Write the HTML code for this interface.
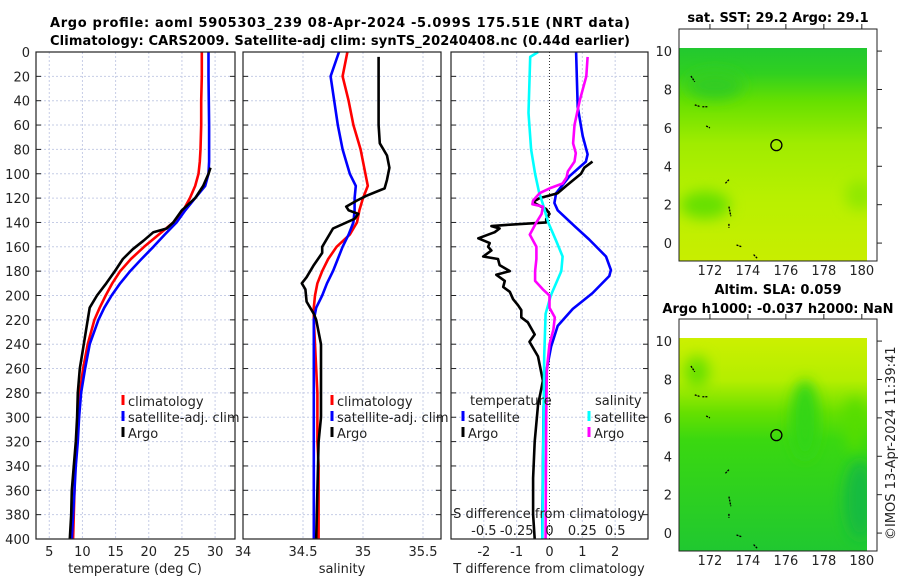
<!DOCTYPE html>
<html><head><meta charset="utf-8"><style>
body{margin:0;background:#fff}
svg{display:block;font-family:"DejaVu Sans","Liberation Sans",sans-serif}
.tk{font-size:13px;fill:#222}
.tt{font-size:13px;font-weight:bold;fill:#000}
</style></head><body>
<svg id="s" width="900" height="580" viewBox="0 0 900 580">
<defs>
<filter id="bl" x="-50%" y="-50%" width="200%" height="200%"><feGaussianBlur stdDeviation="7"/></filter>
<clipPath id="c1"><rect x="679" y="48" width="188" height="213"/></clipPath>
<clipPath id="c2"><rect x="679" y="338" width="188" height="213"/></clipPath>
<linearGradient id="g1" x1="0" y1="0" x2="0" y2="1">
<stop offset="0" stop-color="#22c830"/><stop offset="0.12" stop-color="#30d020"/><stop offset="0.25" stop-color="#66e000"/><stop offset="0.45" stop-color="#a0ec00"/><stop offset="0.7" stop-color="#b8f000"/><stop offset="1" stop-color="#c8ee00"/></linearGradient>
<linearGradient id="g2" x1="0" y1="0" x2="0" y2="1">
<stop offset="0" stop-color="#ccf000"/><stop offset="0.2" stop-color="#b4ee00"/><stop offset="0.35" stop-color="#66e000"/><stop offset="0.48" stop-color="#3ad810"/><stop offset="1" stop-color="#20c830"/></linearGradient>
</defs>
<g id="title">
<text class="tt" x="340" y="27" text-anchor="middle" textLength="580">Argo profile: aoml 5905303_239 08-Apr-2024 -5.099S 175.51E (NRT data)</text>
<text class="tt" x="340" y="45" text-anchor="middle" textLength="580">Climatology: CARS2009. Satellite-adj clim: synTS_20240408.nc (0.44d earlier)</text>
</g>
<g id="grid"></g>
<g id="lines"></g>
<g id="frames"></g>
<g id="maps">
<text class="tt" x="778" y="22" text-anchor="middle">sat. SST: 29.2 Argo: 29.1</text>
<g clip-path="url(#c1)">
<rect x="679" y="48" width="188" height="213" fill="url(#g1)"/>
<ellipse cx="705" cy="205" rx="25" ry="14" fill="#66e000" filter="url(#bl)"/>
<ellipse cx="860" cy="195" rx="15" ry="15" fill="#90e800" filter="url(#bl)"/>
<ellipse cx="715" cy="85" rx="28" ry="14" fill="#33cc20" filter="url(#bl)"/>
</g>
<rect x="679" y="29" width="198" height="232" fill="none" stroke="#222"/>
<text class="tt" x="778" y="294" text-anchor="middle">Altim. SLA: 0.059</text>
<text class="tt" x="778" y="313" text-anchor="middle">Argo h1000: -0.037 h2000: NaN</text>
<g clip-path="url(#c2)">
<rect x="679" y="338" width="188" height="213" fill="url(#g2)"/>
<ellipse cx="805" cy="420" rx="14" ry="40" fill="#33d515" filter="url(#bl)"/>
<ellipse cx="855" cy="425" rx="10" ry="28" fill="#55dd05" filter="url(#bl)"/>
<ellipse cx="697" cy="372" rx="12" ry="16" fill="#66e000" filter="url(#bl)"/>
<ellipse cx="860" cy="500" rx="16" ry="40" fill="#15bb40" filter="url(#bl)"/>
</g>
<rect x="679" y="319" width="198" height="232" fill="none" stroke="#222"/>
<text class="tk" transform="translate(895,540) rotate(-90)">©IMOS 13-Apr-2024 11:39:41</text>
</g>
</svg>
<script>
var NS='http://www.w3.org/2000/svg';
var svg=document.getElementById('s');
// ---- data ----
var depths=[0,20,40,60,80,90,100,110,120,130,140,150,160,170,180,190,200,210,220,240,260,280,300,320,340,360,380,400];
var tempClim=[28.0,28.0,27.9,27.9,27.8,27.7,27.5,27.0,26.2,25.2,23.7,21.5,19.3,17.3,15.7,14.5,13.5,12.6,11.8,10.8,10.1,9.6,9.3,9.1,8.9,8.8,8.7,8.6];
var tempSat=[29.0,29.0,29.05,29.1,29.1,29.1,29.0,28.5,27.0,25.5,24.2,22.4,20.7,18.9,17.2,15.7,14.4,13.3,12.4,11.1,10.4,9.8,9.5,9.3,9.0,8.8,8.6,8.4];
var argoDepths=[95,100,110,120,130,140,145,148,155,162,170,180,190,200,210,220,240,260,280,300,320,340,360,380,400];
var tempArgo=[29.3,29.0,28.2,27.0,25.0,23.7,22.7,20.7,19.2,17.6,16.1,14.9,13.6,12.2,11.1,10.8,10.2,9.6,9.3,9.2,9.0,8.7,8.4,8.3,8.1];
var salClim=[34.87,34.83,34.88,34.92,34.98,35.0,35.02,35.04,35.0,34.97,34.95,34.89,34.78,34.71,34.66,34.62,34.6,34.59,34.59,34.6,34.61,34.62,34.62,34.62,34.63,34.63,34.63,34.63];
var salSat=[34.8,34.73,34.76,34.79,34.83,34.86,34.89,34.94,34.93,34.93,34.92,34.88,34.83,34.79,34.75,34.7,34.66,34.61,34.59,34.59,34.59,34.59,34.59,34.59,34.59,34.59,34.59,34.59];
var salArgoDepths=[4,60,75,85,95,105,112,118,122,127,130,133,137,145,160,165,175,185,190,195,205,215,220,240,300,320,400];
var salArgo=[35.13,35.13,35.14,35.2,35.22,35.2,35.18,35.03,34.95,34.86,34.88,34.96,34.93,34.75,34.66,34.66,34.59,34.53,34.49,34.52,34.53,34.59,34.61,34.65,34.65,34.63,34.61];
var dT_depths=[0,45,69,84,90,102,116,124,130,143,154,168,179,184,198,211,225,242,263,291,386,400];
var dTsat=[0.81,0.86,1.01,1.16,1.11,0.61,0.2,0.15,0.25,0.76,1.21,1.72,1.87,1.82,1.31,0.71,0.25,0.05,-0.1,-0.18,-0.22,-0.22];
var dTargoDepths=[90,95,100,110,116,120,123,125,129,133,137,140,142,143,145,148,153,157,160,163,168,170,175,180,183,188,193,197,203,208,212,218,222,232,238,250,270,290,320,350,380,400];
var dTargo=[1.31,1.06,0.96,0.51,0.25,-0.3,-0.5,-0.4,-0.1,0,-0.1,-0.1,-1.31,-1.77,-1.52,-1.67,-2.17,-1.82,-1.87,-1.77,-2.02,-1.57,-1.52,-1.21,-1.62,-1.36,-1.41,-1.21,-1.11,-0.96,-0.86,-0.86,-0.66,-0.45,-0.61,-0.35,-0.2,-0.35,-0.45,-0.5,-0.5,-0.45];
var dS_depths=[0,4,50,80,100,115,125,140,155,168,180,200,215,250,300,400];
var dSsat=[-0.087,-0.147,-0.16,-0.14,-0.11,-0.08,-0.05,-0.01,0.05,0.1,0.09,0.01,-0.03,-0.04,-0.045,-0.055];
var dSargoDepths=[4,20,40,60,75,83,90,98,103,108,112,116,122,125,127,133,140,150,160,170,180,188,195,200,210,218,228,240,260,300,400];
var dSargo=[0.29,0.28,0.23,0.19,0.18,0.2,0.19,0.14,0.13,0.1,0,-0.075,-0.125,-0.13,-0.05,-0.06,-0.1,-0.15,-0.1,-0.1,-0.11,-0.11,-0.05,0,0,0.04,0.03,0,-0.02,-0.025,-0.03];
var depthTicks=[0,20,40,60,80,100,120,140,160,180,200,220,240,260,280,300,320,340,360,380,400];
var tempTicks=[5,10,15,20,25,30];
var salTicks=[34,34.5,35,35.5];
var salTickLabels=['34','34.5','35','35.5'];
var dTTicks=[-2,-1,0,1,2];
var dSTicks=[-0.5,-0.25,0,0.25,0.5];
var dSTickLabels=['-0.5','-0.25','0','0.25','0.5'];
var latTicks=[0,2,4,6,8,10];
var lonTicks=[172,174,176,178,180];
// ---- scales ----
var TOP=52,BOT=539;
function yD(d){return TOP+d*(BOT-TOP)/400;}
var P1={x0:36,x1:235,v0:3,v1:33},P2={x0:243,x1:441,v0:34,v1:35.65},P3={x0:451,x1:648,v0:-3,v1:3};
function sx(p,v){return p.x0+(v-p.v0)*(p.x1-p.x0)/(p.v1-p.v0);}
function sxS(v){return sx(P3,v*4);}
function el(t,a,parent){var e=document.createElementNS(NS,t);for(var k in a)e.setAttribute(k,a[k]);(parent||svg).appendChild(e);return e;}
var grid=document.getElementById('grid'),lines=document.getElementById('lines'),frames=document.getElementById('frames');
var panels=[P1,P2,P3];
panels.forEach(function(p,i){
  depthTicks.forEach(function(d){
    if(d>0&&d<400){var g=el('line',{x1:p.x0,x2:p.x1,y1:yD(d),y2:yD(d),stroke:'#c6cde6','stroke-width':1,'stroke-dasharray':'2,2'},grid);
    
    }
    el('line',{x1:p.x0,x2:p.x0+5,y1:yD(d),y2:yD(d),stroke:'#222'},frames);
    el('line',{x1:p.x1-5,x2:p.x1,y1:yD(d),y2:yD(d),stroke:'#222'},frames);
  });
  var f=el('rect',{x:p.x0,y:TOP,width:p.x1-p.x0,height:BOT-TOP,fill:'none',stroke:'#222','stroke-width':1.2},frames);
  
  
});
depthTicks.forEach(function(d){
  var t=el('text',{x:30,y:yD(d)+5,'text-anchor':'end','class':'tk'});t.textContent=d;
  
  
});
function vgrid(p,x){var g=el('line',{x1:x,x2:x,y1:TOP,y2:BOT,stroke:'#c6cde6','stroke-dasharray':'2,2'},grid);
  
  }
function xlabel(x,y,s,name){var t=el('text',{x:x,y:y,'text-anchor':'middle','class':'tk'});t.textContent=s;
  
  return t;}
tempTicks.forEach(function(v){var x=sx(P1,v);vgrid(P1,x);xlabel(x,556,v,'temperature-tick-label');});
salTicks.forEach(function(v,i){var x=sx(P2,v);if(i>0)vgrid(P2,x);xlabel(x,556,salTickLabels[i],'salinity-tick-label');});
dTTicks.forEach(function(v){var x=sx(P3,v);if(v!==0)vgrid(P3,x);xlabel(x,556,v,'tdiff-tick-label');});
dSTicks.forEach(function(v,i){xlabel(sxS(v),535,dSTickLabels[i],'sdiff-tick-label');});
el('line',{x1:sx(P3,0),x2:sx(P3,0),y1:TOP,y2:BOT,stroke:'#333','stroke-dasharray':'1,2'},grid);
xlabel(135,573,'temperature (deg C)','temperature-axis-title');
xlabel(342,573,'salinity','salinity-axis-title');
xlabel(549,573,'T difference from climatology','tdiff-axis-title');
xlabel(549,518,'S difference from climatology','sdiff-axis-title');
function poly(xs,ds,fx,color,name){
  var pts=xs.map(function(v,i){return fx(v).toFixed(1)+','+yD(ds[i]).toFixed(1);}).join(' ');
  var p=el('polyline',{points:pts,fill:'none',stroke:color,'stroke-width':2.6,'stroke-linejoin':'round'},lines);
  
  
}
var f1=function(v){return sx(P1,v);},f2=function(v){return sx(P2,v);},f3=function(v){return sx(P3,v);};
poly(tempClim,depths,f1,'#f00','temp-climatology-line');
poly(tempSat,depths,f1,'#00f','temp-satellite-line');
poly(tempArgo,argoDepths,f1,'#000','temp-argo-line');
poly(salClim,depths,f2,'#f00','sal-climatology-line');
poly(salSat,depths,f2,'#00f','sal-satellite-line');
poly(salArgo,salArgoDepths,f2,'#000','sal-argo-line');
poly(dTsat,dT_depths,f3,'#00f','tdiff-satellite-line');
poly(dTargo,dTargoDepths,f3,'#000','tdiff-argo-line');
poly(dSsat,dS_depths,sxS,'#0ff','sdiff-satellite-line');
poly(dSargo,dSargoDepths,sxS,'#f0f','sdiff-argo-line');
function leg(x,y,color,label,name){
  var g=el('g',{});
  
  
  el('rect',{x:x-1.5,y:y-11,width:3,height:10,fill:color},g);
  var t=el('text',{x:x+5,y:y,'class':'tk'},g);t.textContent=label;
}
leg(123,406,'#f00','climatology','legend-temp-climatology');
leg(123,422,'#00f','satellite-adj. clim','legend-temp-satellite');
leg(123,438,'#000','Argo','legend-temp-argo');
leg(332,406,'#f00','climatology','legend-sal-climatology');
leg(332,422,'#00f','satellite-adj. clim','legend-sal-satellite');
leg(332,438,'#000','Argo','legend-sal-argo');
var tl=el('text',{x:470,y:405,'class':'tk'});tl.textContent='temperature';


var sl=el('text',{x:595,y:405,'class':'tk'});sl.textContent='salinity';


leg(463,422,'#00f','satellite','legend-tdiff-satellite');
leg(463,438,'#000','Argo','legend-tdiff-argo');
leg(589,422,'#0ff','satellite','legend-sdiff-satellite');
leg(589,438,'#f0f','Argo','legend-sdiff-argo');
// maps axes
var maps=document.getElementById('maps');
var MX0=679,MX1=877,LON0=170.37,LON1=180.8;
function mx(l){return MX0+(l-LON0)*(MX1-MX0)/(LON1-LON0);}
function my(lat,top){return top+(11.15-lat)*19.2;}
[29,319].forEach(function(top,k){
  latTicks.forEach(function(la){var y=my(la,top);
    var t=el('text',{x:672,y:y+5,'text-anchor':'end','class':'tk'},maps);t.textContent=la;
    
    
    el('line',{x1:877,x2:882,y1:y,y2:y,stroke:'#222'},maps);});
  lonTicks.forEach(function(lo){var x=mx(lo);
    var t=el('text',{x:x,y:top+246,'text-anchor':'middle','class':'tk'},maps);t.textContent=lo;
    
    
    el('line',{x1:x,x2:x,y1:top-5,y2:top,stroke:'#222'},maps);});
  var c=el('circle',{cx:mx(175.5),cy:my(5.1,top),r:5.5,fill:'none',stroke:'#000','stroke-width':1.3},maps);
  
  
  var isl=[[171,8.7,171.2,8.4],[171.2,7.2,171.5,7.1],[171.6,7.1,171.9,7.1],[171.8,6.1,172,6.0],[173,3.3,172.8,3.1],[173,1.9,173.1,1.4],[173,1.0,173,0.8],[173.4,-0.1,173.7,-0.2],[174.3,-0.6,174.5,-0.8]];
  isl.forEach(function(s){var l=el('line',{x1:mx(s[0]),y1:my(s[1],top),x2:mx(s[2]),y2:my(s[3],top),stroke:'#000','stroke-width':1.3,'stroke-dasharray':'2,1'},maps);
    
    });
});
</script>
</body></html>
